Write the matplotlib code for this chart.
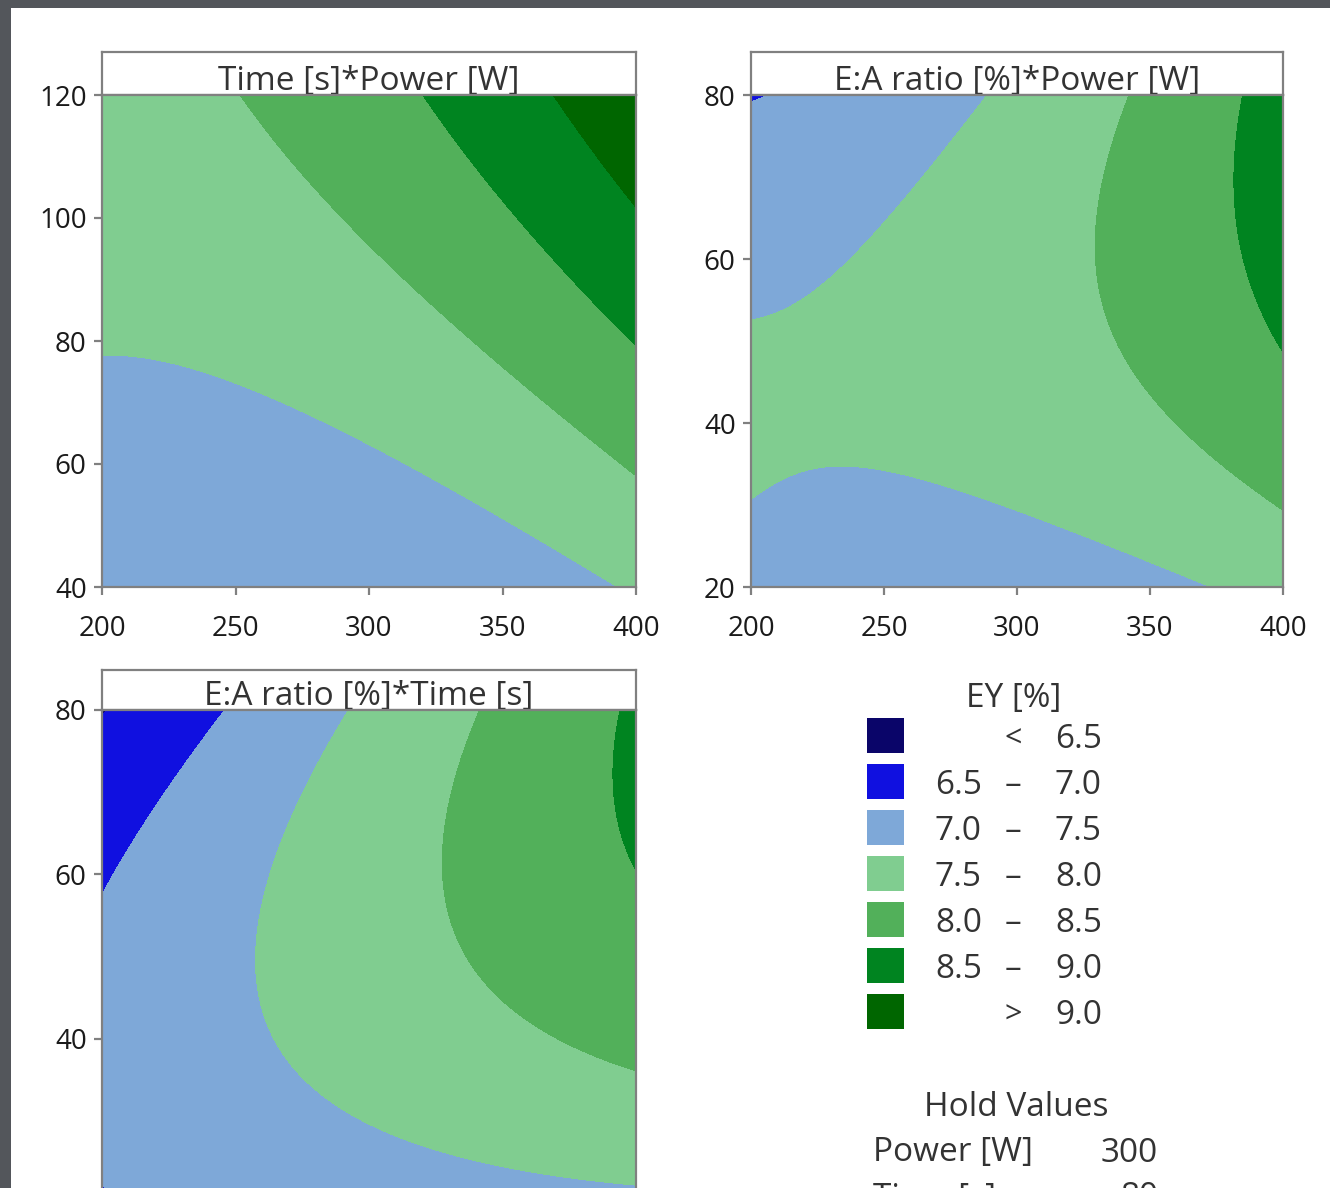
import matplotlib
matplotlib.use("Agg")
import matplotlib.pyplot as plt
import numpy as np
from matplotlib.patches import Rectangle

plt.rcParams['font.family'] = ['Open Sans', 'DejaVu Sans']

# EY [%] contour classes and their colours
ey_bounds = [0, 6.5, 7.0, 7.5, 8.0, 8.5, 9.0, 20]
ey_colors = ['#0a0569', '#1010e0', '#7ea8d8', '#80cd90', '#52b05a', '#008420', '#006600']
legend_low = ['', '6.5', '7.0', '7.5', '8.0', '8.5', '']
legend_sep = ['<', '\u2013', '\u2013', '\u2013', '\u2013', '\u2013', '>']
legend_high = ['6.5', '7.0', '7.5', '8.0', '8.5', '9.0', '9.0']

hold_names = ['Power [W]', 'Time [s]']
hold_values = ['300', '80']

# points read off each contour boundary, grouped by the EY level of the boundary
# panel 1: Time [s] (y) vs Power [W] (x)
tp_levels = [7.5, 8.0, 8.5, 9.0]
tp_power = [
    [200, 227, 247, 267, 289, 316, 342, 368, 392],
    [252, 266, 279, 296, 316, 335, 355, 375, 400],
    [320, 329, 342, 355, 368, 384, 400],
    [368, 382, 400],
]
tp_time = [
    [78.0, 76.6, 73.6, 69.8, 64.9, 59.5, 53.0, 46.5, 40.5],
    [120, 111.6, 104.5, 97.5, 89.4, 81.8, 74.2, 67.1, 57.9],
    [120, 114.3, 107.3, 100.2, 93.7, 86.1, 78.8],
    [120, 113.2, 101.3],
]

# panel 2: E:A ratio [%] (y) vs Power [W] (x)
rp_levels = [7.0, 7.5, 7.5, 8.0, 8.5]
rp_power = [
    [200, 203, 206],
    [289, 278.5, 265.4, 252.3, 236.5, 220.7, 205, 200],
    [200, 210, 223, 237, 250, 269, 289, 315, 342, 372],
    [342, 335, 331, 330, 330, 334, 342, 355, 368, 384, 400],
    [384, 382, 382, 385, 391, 400],
]
rp_ratio = [
    [79, 79.5, 80],
    [80, 75.3, 70.4, 65.5, 60.6, 56.2, 53.3, 52.7],
    [30.9, 33.3, 34.8, 34.9, 34.6, 32.7, 30.5, 27.2, 24.0, 20],
    [80, 72.5, 64.3, 60.2, 56.2, 52.1, 47.2, 41.5, 37.4, 33.3, 29.5],
    [80, 72.5, 66.3, 60.2, 54.1, 48.6],
]

# panel 3: E:A ratio [%] (y) vs Time [s] (x)
rt_levels = [7.0, 7.5, 8.0, 8.5]
rt_time = [
    [58.3, 54.6, 49.4, 45.2, 42.0, 40.2],
    [76.8, 73.1, 69.4, 66.2, 64.1, 63.2, 63.6, 65.7, 69.4, 75.7, 83.6, 94.2, 107.3, 120],
    [96.3, 93.6, 92.1, 91.3, 91.5, 93.1, 96.8, 102.1, 110.0, 120],
    [117.4, 116.6, 117.4, 120],
]
rt_ratio = [
    [80, 75.5, 69.9, 65.0, 61.0, 58.1],
    [80, 74.3, 68.3, 62.6, 56.9, 50.8, 45.6, 40.7, 36.7, 31.8, 28.1, 25.3, 23.3, 22.3],
    [80, 73.9, 67.0, 61.0, 54.9, 50.9, 46.8, 42.8, 39.1, 36.3],
    [80, 73.1, 67.0, 61.0],
]

power_ticks = [200, 250, 300, 350, 400]
time_ticks = [40, 60, 80, 100, 120]
ratio_ticks = [20, 40, 60, 80]

GRAY = '#808080'
W, H = 1330, 1188


def quad_terms(u, v):
    return np.column_stack([np.ones_like(u), u, v, u * v, u ** 2, v ** 2])


def fit_surface(xs, ys, levels, xlim, ylim):
    # quadratic response surface through the boundary points
    x = np.concatenate([np.asarray(g, float) for g in xs])
    y = np.concatenate([np.asarray(g, float) for g in ys])
    z = np.concatenate([np.full(len(g), lv) for g, lv in zip(xs, levels)])
    xc, xh = np.mean(xlim), (xlim[1] - xlim[0]) / 2
    yc, yh = np.mean(ylim), (ylim[1] - ylim[0]) / 2
    coef = np.linalg.lstsq(quad_terms((x - xc) / xh, (y - yc) / yh), z, rcond=None)[0]
    gx, gy = np.meshgrid(np.linspace(xlim[0], xlim[1], 400), np.linspace(ylim[0], ylim[1], 400))
    gz = quad_terms(((gx - xc) / xh).ravel(), ((gy - yc) / yh).ravel()) @ coef
    return gx, gy, gz.reshape(gx.shape)


def px_axes(left, top, right, bottom):
    return fig.add_axes([left / W, 1 - bottom / H, (right - left) / W, (bottom - top) / H])


def panel(left, top, right, bottom, box_top, title, xs, ys, levels, xlim, ylim, xticks, yticks):
    box = px_axes(left, box_top, right, top)
    box.set_xticks([])
    box.set_yticks([])
    for s in box.spines.values():
        s.set_color(GRAY)
        s.set_linewidth(1.6)
    box.text(0.5, 5 / (top - box_top), title, ha='center', va='baseline', fontsize=24,
             color='#333333', transform=box.transAxes)

    ax = px_axes(left, top, right, bottom)
    gx, gy, gz = fit_surface(xs, ys, levels, xlim, ylim)
    ax.contourf(gx, gy, gz, levels=ey_bounds, colors=ey_colors)
    ax.set_xlim(xlim)
    ax.set_ylim(ylim)
    ax.set_xticks(xticks)
    ax.set_yticks(yticks)
    for s in ax.spines.values():
        s.set_color(GRAY)
        s.set_linewidth(1.6)
    ax.tick_params(axis='both', direction='out', length=6, width=1.6, color=GRAY,
                   labelsize=20, labelcolor='#1a1a1a')
    ax.tick_params(axis='y', pad=5)
    ax.tick_params(axis='x', pad=14)
    return ax


fig = plt.figure(figsize=(W / 100, H / 100), dpi=100)
fig.patch.set_facecolor('white')

panel(102, 95, 636, 587, 52, 'Time [s]*Power [W]', tp_power, tp_time, tp_levels,
      (200, 400), (40, 120), power_ticks, time_ticks)
panel(751, 95, 1283, 587, 52, 'E:A ratio [%]*Power [W]', rp_power, rp_ratio, rp_levels,
      (200, 400), (20, 80), power_ticks, ratio_ticks)
ax3 = panel(102, 710, 636, 1203, 670, 'E:A ratio [%]*Time [s]', rt_time, rt_ratio, rt_levels,
            (40, 120), (20, 80), time_ticks, ratio_ticks)
# the lower panel runs past the bottom of the window, its x labels are out of view
ax3.tick_params(axis='x', labelbottom=False)

# legend and hold values, laid out in pixel coordinates
leg = fig.add_axes([0, 0, 1, 1])
leg.set_xlim(0, W)
leg.set_ylim(H, 0)
leg.axis('off')
leg.text(1014, 698, 'EY [%]', ha='center', va='center', fontsize=24, color='#333333')
for i, c in enumerate(ey_colors):
    y0 = 718 + 46 * i
    leg.add_patch(Rectangle((867, y0), 37, 35, facecolor=c, edgecolor='none'))
    yc = y0 + 22
    leg.text(982, yc, legend_low[i], ha='right', va='center', fontsize=24, color='#333333')
    leg.text(1013, yc, legend_sep[i], ha='center', va='center', fontsize=22 if i in (0, 6) else 24,
             color='#333333')
    leg.text(1102, yc, legend_high[i], ha='right', va='center', fontsize=24, color='#333333')

leg.text(1016, 1108, 'Hold Values', ha='center', va='center', fontsize=24, color='#333333')
for i, (name, val) in enumerate(zip(hold_names, hold_values)):
    yc = 1153 + 45 * i
    leg.text(873, yc, name, ha='left', va='center', fontsize=24, color='#333333')
    leg.text(1158, yc, val, ha='right', va='center', fontsize=24, color='#333333')

# dark window frame on the left and top edges
fig.patches.append(Rectangle((0, 0), 11 / W, 1, transform=fig.transFigure,
                             facecolor='#53565b', edgecolor='none', zorder=10))
fig.patches.append(Rectangle((0, 1 - 8 / H), 1, 8 / H, transform=fig.transFigure,
                             facecolor='#53565b', edgecolor='none', zorder=10))

fig.savefig('out.png', dpi=100)
